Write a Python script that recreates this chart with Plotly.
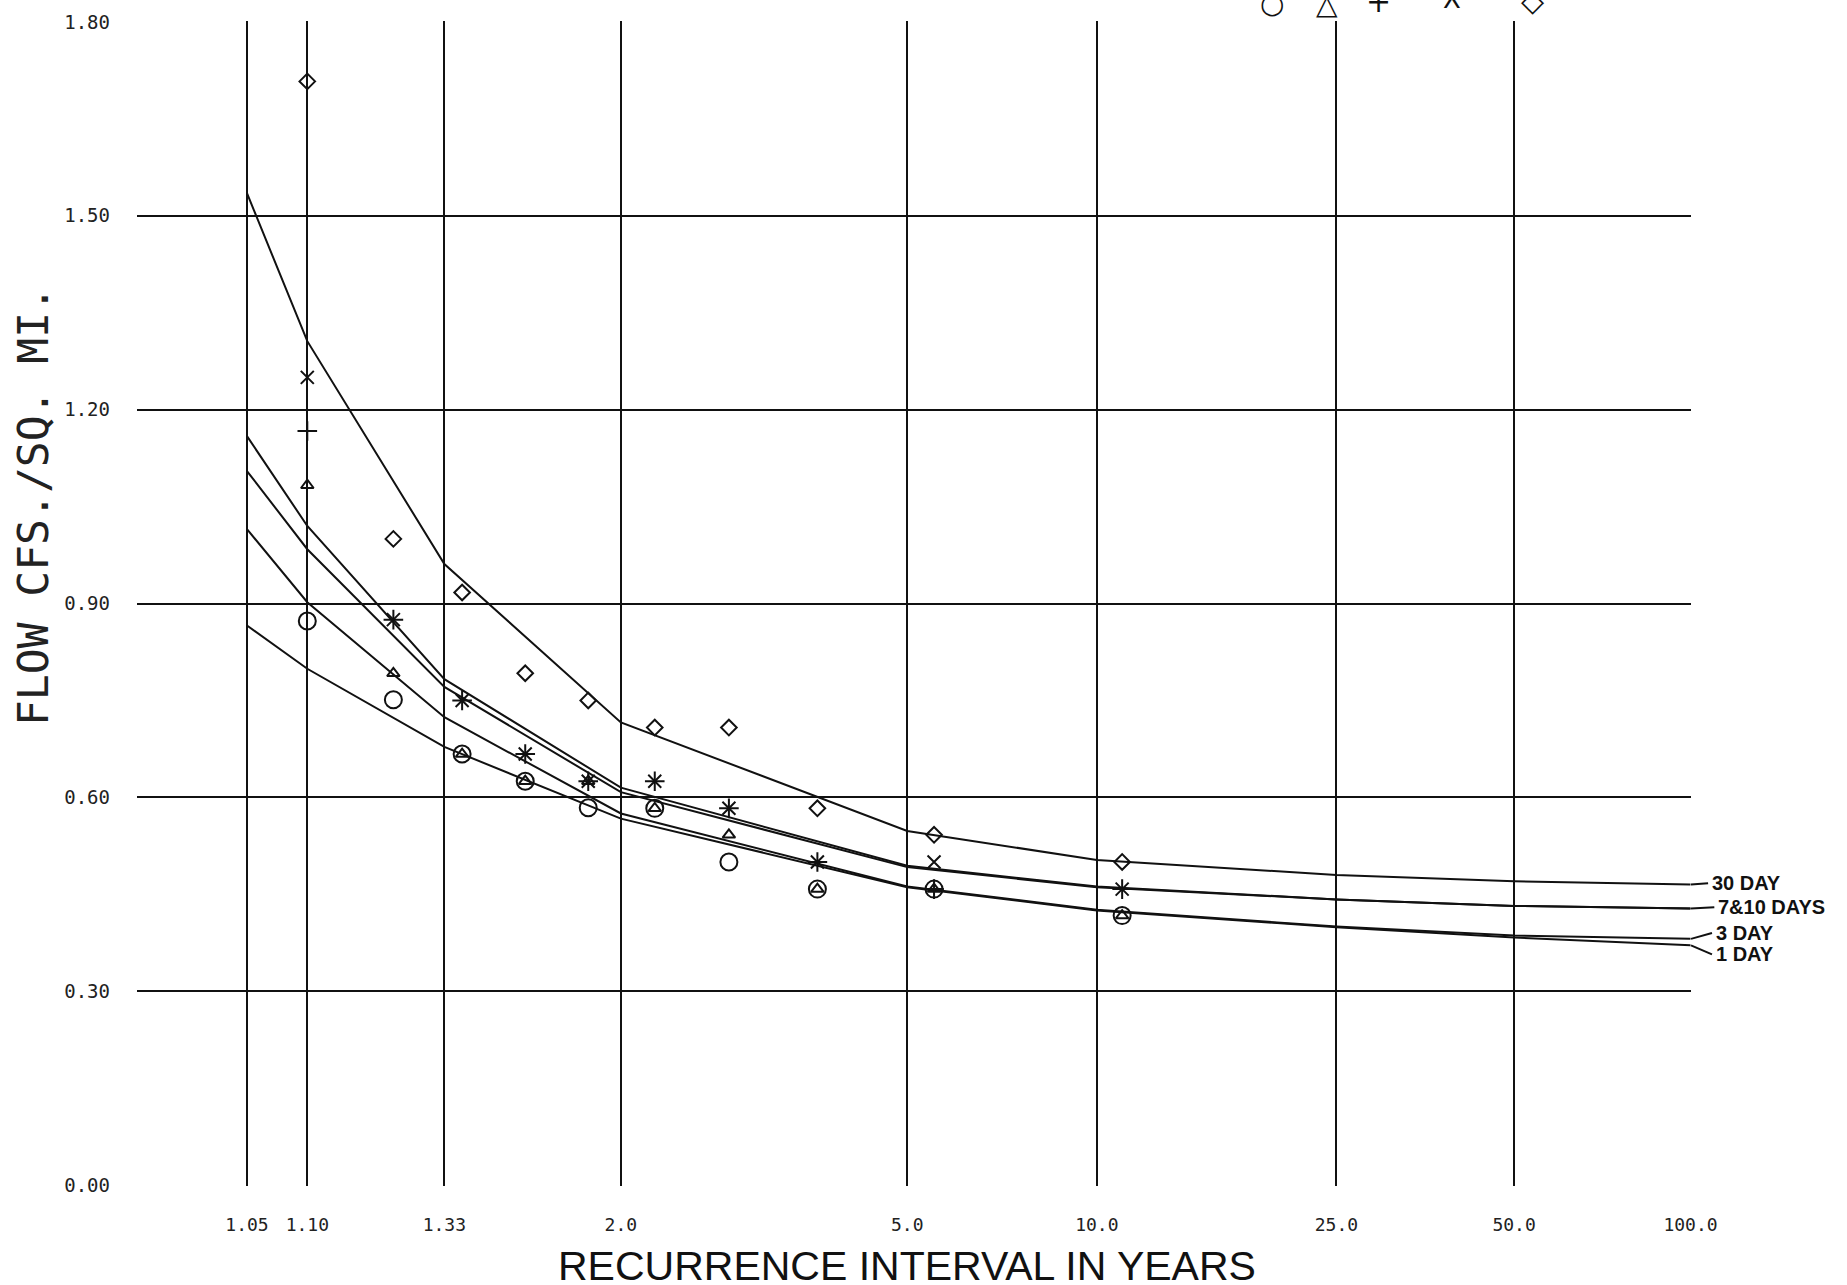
import numpy as np
import plotly.graph_objects as go

# Recurrence intervals (years) at which the frequency curves are evaluated
curve_T = [1.05, 1.10, 1.33, 2.0, 5.0, 10.0, 25.0, 50.0, 100.0]
tick_labels_x = ["1.05", "1.10", "1.33", "2.0", "5.0", "10.0", "25.0", "50.0", "100.0"]

# Fitted low-flow frequency curves, flow in cfs per square mile
curve_30day = [1.535, 1.306, 0.961, 0.716, 0.548, 0.503, 0.480, 0.470, 0.465]
curve_10day = [1.159, 1.020, 0.783, 0.615, 0.494, 0.462, 0.442, 0.432, 0.428]
curve_7day = [1.105, 0.984, 0.771, 0.608, 0.492, 0.461, 0.442, 0.432, 0.428]
curve_3day = [1.015, 0.902, 0.724, 0.575, 0.462, 0.426, 0.400, 0.386, 0.381]
curve_1day = [0.866, 0.799, 0.678, 0.567, 0.461, 0.425, 0.399, 0.383, 0.371]

# Observed annual minima, plotted at Weibull recurrence intervals (n = 10)
obs_T = [1.10, 1.222, 1.375, 1.571, 1.833, 2.20, 2.75, 3.667, 5.50, 11.0]
obs_1day = [0.873, 0.751, 0.667, 0.625, 0.584, 0.583, 0.500, 0.458, 0.458, 0.417]
obs_3day = [1.083, 0.792, 0.667, 0.625, 0.625, 0.583, 0.542, 0.458, 0.458, 0.417]
obs_7day = [1.167, 0.875, 0.750, 0.667, 0.625, 0.625, 0.583, 0.500, 0.458, 0.458]
obs_10day = [1.250, 0.875, 0.750, 0.667, 0.625, 0.625, 0.583, 0.500, 0.500, 0.458]
obs_30day = [1.708, 1.000, 0.917, 0.792, 0.750, 0.708, 0.708, 0.583, 0.542, 0.500]

y_ticks = [0.0, 0.3, 0.6, 0.9, 1.2, 1.5, 1.8]
y_tick_labels = ["0.00", "0.30", "0.60", "0.90", "1.20", "1.50", "1.80"]

curve_labels = ["30 DAY", "7&10 DAYS", "3 DAY", "1 DAY"]


def gumbel(T):
    """Extreme-value (Gumbel) reduced variate for recurrence interval T."""
    T = np.asarray(T, dtype=float)
    return -np.log(-np.log(1.0 - 1.0 / T))


INK = "#111111"
MONO = "DejaVu Sans Mono, monospace"

fig = go.Figure()

for vals in [curve_30day, curve_10day, curve_7day, curve_3day, curve_1day]:
    fig.add_trace(go.Scatter(
        x=gumbel(curve_T), y=vals, mode="lines",
        line=dict(color=INK, width=2), hoverinfo="skip"))

marker_specs = [
    (obs_1day, "circle-open", 17),
    (obs_3day, "triangle-up-open", 11),
    (obs_7day, "cross-thin-open", 14),
    (obs_10day, "x-thin-open", 13),
    (obs_30day, "diamond-open", 12),
]
for vals, sym, size in marker_specs:
    fig.add_trace(go.Scatter(
        x=gumbel(obs_T), y=vals, mode="markers",
        marker=dict(symbol=sym, size=size, color=INK,
                    line=dict(color=INK, width=2))))

# End labels with short leader lines past the right border
label_y = [0.467, 0.430, 0.390, 0.357]
curve_ends = [curve_30day[-1], curve_10day[-1], curve_3day[-1], curve_1day[-1]]
leader_x = [1.0110, 1.0150, 1.0135, 1.0135]
text_x = [1.0122, 1.0160, 1.0145, 1.0145]
for lab, ly, ce, lx, tx in zip(curve_labels, label_y, curve_ends, leader_x, text_x):
    fig.add_shape(type="line", xref="paper", yref="y",
                  x0=1.0, y0=ce, x1=lx, y1=ly,
                  line=dict(color=INK, width=2))
    fig.add_annotation(xref="paper", yref="y", x=tx, y=ly, text=lab,
                       showarrow=False, xanchor="left", yanchor="middle",
                       font=dict(family="Liberation Sans, Arial, sans-serif",
                                 size=20, color=INK, weight="bold"))

# Symbol key along the top edge
key_symbols = ["○", "△", "+", "X", "◇"]
key_x = [0.7305, 0.7660, 0.7990, 0.8465, 0.8980]
key_y = [1.0150, 1.0140, 1.0170, 1.0190, 1.0180]
key_size = [28, 28, 30, 26, 30]
for s, kx, ky, ks in zip(key_symbols, key_x, key_y, key_size):
    fig.add_annotation(xref="paper", yref="paper", x=kx, y=ky, text=s,
                       showarrow=False, xanchor="center", yanchor="middle",
                       font=dict(family="DejaVu Sans, sans-serif", size=ks, color=INK))

# Axis titles
fig.add_annotation(xref="paper", yref="paper", x=0.4955, y=-0.0685,
                   text="RECURRENCE INTERVAL IN YEARS", showarrow=False,
                   xanchor="center", yanchor="middle",
                   font=dict(family="Liberation Sans Narrow, Arial Narrow, Liberation Sans, sans-serif",
                             size=41, color=INK))
fig.add_annotation(xref="paper", yref="paper", x=-0.0670, y=0.5835,
                   text="FLOW CFS./SQ. MI.", showarrow=False, textangle=-90,
                   xanchor="center", yanchor="middle",
                   font=dict(family=MONO, size=43, color="#222222"))

x_left = float(gumbel(1.05)) - 0.4353
x_right = float(gumbel(100.0)) + 0.002

fig.update_xaxes(
    range=[x_left, x_right],
    tickmode="array", tickvals=gumbel(curve_T), ticktext=tick_labels_x,
    showgrid=True, gridcolor=INK, gridwidth=2,
    zeroline=False, showline=False, ticks="",
    ticklabelstandoff=26,
    tickfont=dict(family=MONO, size=18, color="#222222"),
)
fig.update_yaxes(
    range=[-0.0015, 1.8015],
    tickmode="array", tickvals=y_ticks, ticktext=y_tick_labels,
    showgrid=True, gridcolor=INK, gridwidth=2,
    zeroline=False, showline=False, ticks="",
    ticklabelstandoff=26,
    tickfont=dict(family=MONO, size=19, color="#222222"),
)

fig.update_layout(
    width=1847, height=1285,
    margin=dict(l=137, r=156, t=21, b=99),
    plot_bgcolor="white", paper_bgcolor="white",
    showlegend=False,
)

fig.write_html("out.html")
